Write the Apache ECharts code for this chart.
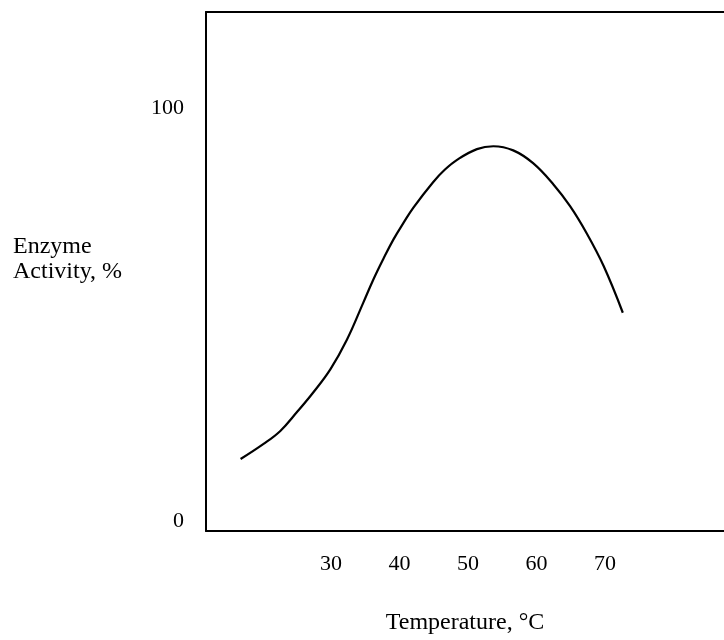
<!DOCTYPE html>
<html>
<head>
<meta charset="utf-8">
<script src="https://cdn.jsdelivr.net/npm/echarts@6/dist/echarts.min.js"></script>
<style>
  html, body { margin: 0; padding: 0; background: #fff; }
  #chart { width: 724px; height: 640px; }
</style>
</head>
<body>
<div id="chart"></div>
<script>
// temperature (°C) and enzyme activity (%)
const temperature = [16.8, 20.1, 22.6, 25.0, 27.4, 29.9, 32.3, 34.7, 36.2, 37.6, 39.1, 40.6, 42.0, 44.9, 46.6, 48.4, 51.3, 53.7, 56.6, 59.5, 62.5, 64.9, 67.3, 69.8, 72.6]
const activity = [15.0, 18.6, 21.8, 26.3, 31.1, 36.7, 43.8, 52.8, 58.5, 63.3, 68.1, 72.2, 75.8, 82.0, 85.0, 87.4, 90.0, 90.7, 89.7, 86.6, 81.4, 76.2, 69.7, 61.7, 50.4]

const xTicks = [30, 40, 50, 60, 70]
const yTicks = [0, 100]

const font = '"Liberation Serif", "Times New Roman", serif'
const xMin = 11.75
const xMax = 87.37

const chart = echarts.init(document.getElementById('chart'))

const frameLine = { show: true, onZero: false, lineStyle: { color: '#000', width: 2 } }

chart.setOption({
  animation: false,
  textStyle: { fontFamily: font, color: '#000' },
  grid: {
    left: 206,
    top: 12,
    right: 0,
    bottom: 108
  },
  xAxis: [
    {
      type: 'value',
      position: 'bottom',
      min: xMin,
      max: xMax,
      name: 'Temperature, °C',
      nameLocation: 'middle',
      nameGap: 80,
      nameTextStyle: { fontFamily: font, fontSize: 24, color: '#000' },
      axisLine: frameLine,
      axisTick: { show: false },
      splitLine: { show: false },
      axisLabel: {
        customValues: xTicks,
        margin: 22,
        fontFamily: font,
        fontSize: 22,
        color: '#000'
      }
    },
    {
      type: 'value',
      position: 'top',
      min: xMin,
      max: xMax,
      axisLine: frameLine,
      axisTick: { show: false },
      axisLabel: { show: false },
      splitLine: { show: false }
    }
  ],
  yAxis: {
    type: 'value',
    min: -2.42,
    max: 123.19,
    // trailing empty line keeps the two text lines above the axis middle
    name: 'Enzyme\nActivity, %\n',
    nameLocation: 'middle',
    nameRotate: 0,
    nameGap: 193,
    nameTextStyle: {
      fontFamily: font,
      fontSize: 24,
      lineHeight: 25,
      color: '#000',
      align: 'left'
    },
    axisLine: frameLine,
    axisTick: { show: false },
    splitLine: { show: false },
    axisLabel: {
      customValues: yTicks,
      margin: 22,
      fontFamily: font,
      fontSize: 22,
      color: '#000'
    }
  },
  series: [
    {
      type: 'line',
      data: temperature.map((t, i) => [t, activity[i]]),
      smooth: 0.4,
      showSymbol: false,
      lineStyle: { color: '#000', width: 2.2 }
    }
  ]
})
</script>
</body>
</html>
